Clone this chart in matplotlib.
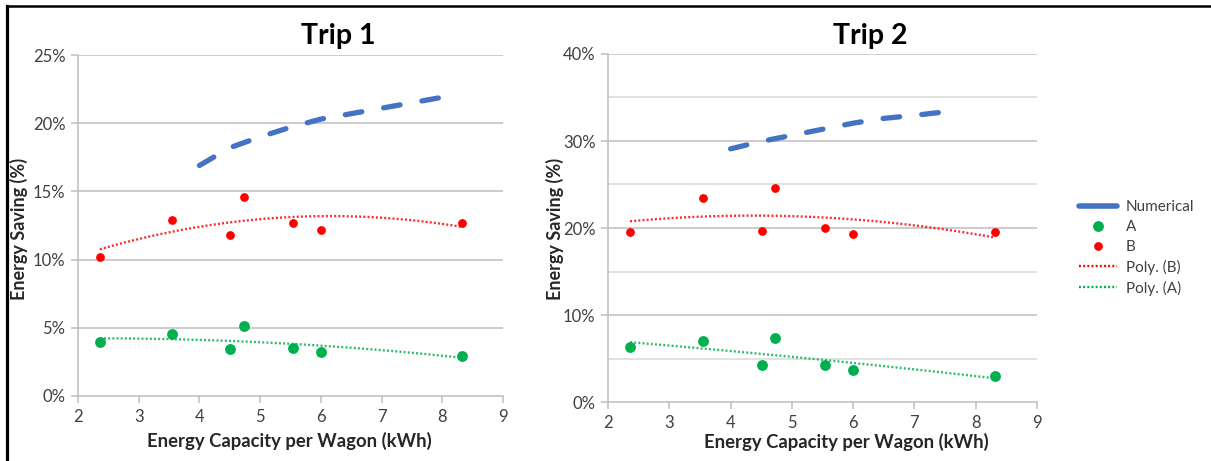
import numpy as np
import matplotlib
matplotlib.use("Agg")
import matplotlib.pyplot as plt
from matplotlib.lines import Line2D
from matplotlib.ticker import FuncFormatter, MultipleLocator

plt.rcParams["font.family"] = ["Lato", "DejaVu Sans"]
plt.rcParams["lines.scale_dashes"] = False

# Energy capacity per wagon (kWh) of the measured configurations
capacity = [2.36, 3.55, 4.51, 4.73, 5.54, 6.00, 8.32]

# Trip 1 measured savings (%)
trip1_a = [3.96, 4.55, 3.42, 5.13, 3.52, 3.20, 2.96]
trip1_b = [10.2, 12.9, 11.8, 14.6, 12.7, 12.2, 12.7]
# Trip 1 numerical model
trip1_num_x = [4.0, 4.5, 5.0, 5.5, 6.0, 6.5, 7.0, 7.5, 8.0]
trip1_num_y = [16.9, 18.2, 19.0, 19.7, 20.3, 20.7, 21.1, 21.5, 21.9]

# Trip 2 measured savings (%)
trip2_a = [6.33, 7.06, 4.22, 7.41, 4.22, 3.72, 2.99]
trip2_b = [19.5, 23.4, 19.7, 24.6, 20.0, 19.3, 19.5]
# Trip 2 numerical model
trip2_num_x = [4.0, 4.5, 5.0, 5.5, 6.0, 6.5, 7.0, 7.5, 7.7]
trip2_num_y = [29.1, 29.95, 30.65, 31.35, 32.05, 32.6, 32.95, 33.35, 33.5]

titles = ["Trip 1", "Trip 2"]
x_ticks = [2, 3, 4, 5, 6, 7, 8, 9]

BLUE = "#4472C4"
GREEN = "#00B050"
RED = "#FF0000"
GRID = "#BFBFBF"
GRID_MINOR = "#D9D9D9"
TICK_COLOR = "#404040"

W, H = 1211, 461
fig = plt.figure(figsize=(W / 100, H / 100), dpi=100)


def px_box(x0, y0, x1, y1):
    return [x0 / W, 1 - y1 / H, (x1 - x0) / W, (y1 - y0) / H]


def draw_panel(ax, a, b, nx, ny, ymax, major, minor):
    ax.set_xlim(2, 9)
    ax.set_ylim(0, ymax)
    ax.set_xticks(x_ticks)
    ax.yaxis.set_major_locator(MultipleLocator(major))
    ax.yaxis.set_major_formatter(FuncFormatter(lambda v, p: f"{v:.0f}%"))
    for y in np.arange(major, ymax + 0.01, major):
        ax.axhline(y, color=GRID, lw=1.1, zorder=0)
    if minor:
        for y in np.arange(minor, ymax, major):
            ax.axhline(y, color=GRID_MINOR, lw=1.1, zorder=0)
    for side in ("top", "right"):
        ax.spines[side].set_visible(False)
    for side in ("left", "bottom"):
        ax.spines[side].set_color(GRID)
        ax.spines[side].set_linewidth(1.1)
    ax.tick_params(axis="both", direction="out", length=5, width=1.1,
                   color=GRID, labelsize=12, labelcolor=TICK_COLOR, pad=4)

    # numerical model
    ax.plot(nx, ny, color=BLUE, lw=3.8, dashes=(12, 16),
            solid_capstyle="round", dash_capstyle="round", zorder=3)

    # polynomial trendlines (order 2) of the measured series
    xs = np.linspace(min(capacity), max(capacity), 200)
    cb = np.polyfit(capacity, b, 2)
    ca = np.polyfit(capacity, a, 2)
    ax.plot(xs, np.polyval(cb, xs), color=RED, lw=1.7, dashes=(1.4, 1.6),
            zorder=2, alpha=0.85)
    ax.plot(xs, np.polyval(ca, xs), color=GREEN, lw=1.7, dashes=(1.4, 1.6),
            zorder=2, alpha=0.85)

    ax.plot(capacity, a, "o", color=GREEN, ms=7.8, mec="none", zorder=4)
    ax.plot(capacity, b, "o", color=RED, ms=6.3, mec="none", zorder=4)


ax1 = fig.add_axes(px_box(78, 55, 503, 396))
draw_panel(ax1, trip1_a, trip1_b, trip1_num_x, trip1_num_y, 25, 5, None)

ax2 = fig.add_axes(px_box(608, 54, 1037, 402))
draw_panel(ax2, trip2_a, trip2_b, trip2_num_x, trip2_num_y, 40, 10, 5)

# titles and axis labels
for cx, t in zip((338, 870), titles):
    fig.text(cx / W, 1 - 36 / H, t, ha="center", va="center",
             fontsize=20.5, fontweight="bold", color="black")
for cx, cy in ((289, 441), (846, 442)):
    fig.text(cx / W, 1 - cy / H, "Energy Capacity per Wagon (kWh)",
             ha="center", va="center", fontsize=13.3, fontweight="bold",
             color="#262626")
for cx in (19, 555):
    fig.text(cx / W, 1 - 229 / H, "Energy Saving (%)", rotation=90,
             ha="center", va="center", fontsize=13, fontweight="bold",
             color="#262626")

# legend
handles = [
    Line2D([], [], color=BLUE, lw=4, solid_capstyle="round"),
    Line2D([], [], color=GREEN, marker="o", ls="none", ms=7.8, mec="none"),
    Line2D([], [], color=RED, marker="o", ls="none", ms=6.3, mec="none"),
    Line2D([], [], color=RED, lw=1.7, dashes=(1.4, 1.6)),
    Line2D([], [], color=GREEN, lw=1.7, dashes=(1.4, 1.6)),
]
labels = ["Numerical", "A", "B", "Poly. (B)", "Poly. (A)"]
fig.legend(handles, labels, loc="center left",
           bbox_to_anchor=(1073 / W, 1 - 248 / H), frameon=False,
           fontsize=11, labelcolor=TICK_COLOR, handlelength=2.5,
           handletextpad=0.55, labelspacing=0.38, borderaxespad=0)

# outer frame edges
fig.add_artist(Line2D([6.5 / W, 6.5 / W], [0, 1 - 6.5 / H], transform=fig.transFigure,
                      color="black", lw=2.3))
fig.add_artist(Line2D([6.5 / W, 1], [1 - 6.5 / H, 1 - 6.5 / H], transform=fig.transFigure,
                      color="black", lw=1.8))

fig.savefig("out.png", dpi=100, facecolor="white")
